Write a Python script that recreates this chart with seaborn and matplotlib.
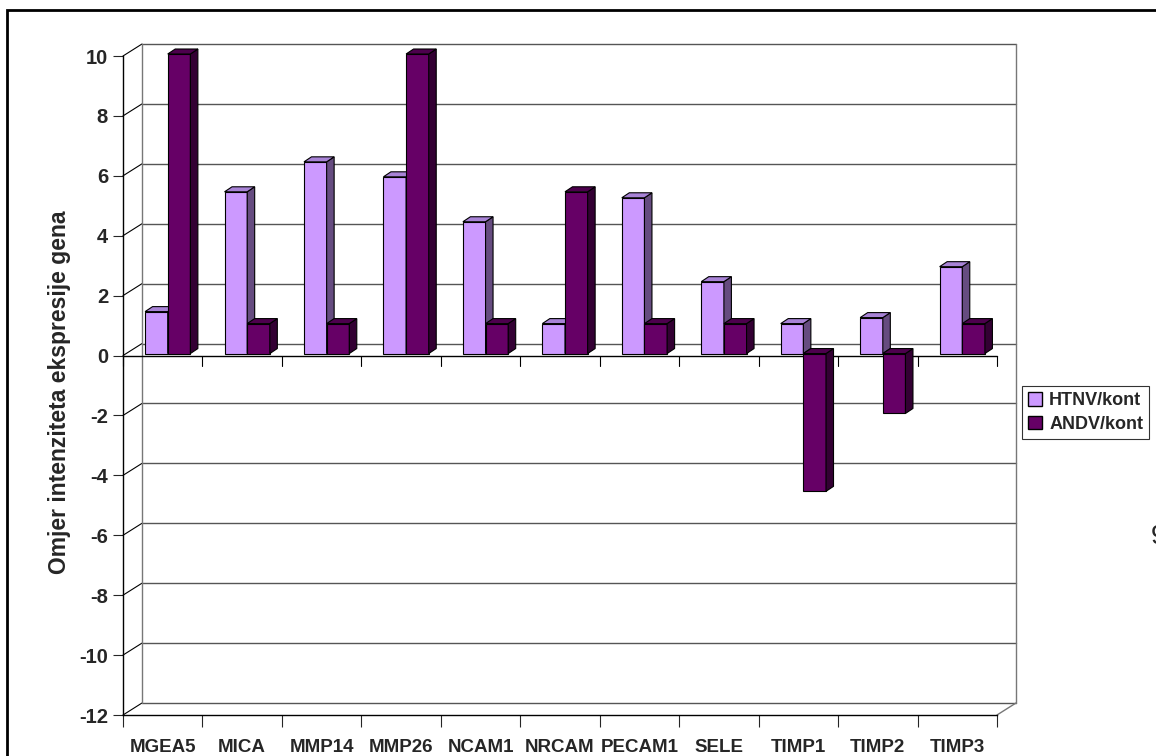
import numpy as np
import pandas as pd
import matplotlib
matplotlib.use("Agg")
import matplotlib.pyplot as plt
import seaborn as sns
from matplotlib.patches import Polygon, Patch, Rectangle

# values (gene expression ratio vs control)
GENES = ["MGEA5", "MICA", "MMP14", "MMP26", "NCAM1", "NRCAM",
         "PECAM1", "SELE", "TIMP1", "TIMP2", "TIMP3"]
HTNV = [1.4, 5.4, 6.4, 5.9, 4.4, 1.0, 5.2, 2.4, 1.0, 1.2, 2.9]
ANDV = [10.0, 1.0, 1.0, 10.0, 1.0, 5.4, 1.0, 1.0, -4.6, -2.0, 1.0]
SERIES = ["HTNV/kont", "ANDV/kont"]
YTICKS = list(range(-12, 11, 2))
YLABEL = "Omjer intenziteta ekspresije gena"

FRONT = {"HTNV/kont": "#cc99ff", "ANDV/kont": "#660066"}
SIDE = {"HTNV/kont": "#664c80", "ANDV/kont": "#330033"}
TOP = {"HTNV/kont": "#a883d6", "ANDV/kont": "#4d004d"}
GRID = "#555555"

df = pd.DataFrame({
    "gene": GENES * 2,
    "value": HTNV + ANDV,
    "series": [SERIES[0]] * len(GENES) + [SERIES[1]] * len(GENES),
})

sns.set_style("white")
plt.rcParams["font.family"] = ["Liberation Sans", "DejaVu Sans"]
plt.rcParams["font.weight"] = "bold"

W, H = 1156, 756
fig = plt.figure(figsize=(W / 100, H / 100), dpi=100)
L, R, T, B = 123, 997, 56, 715
ax = fig.add_axes([L / W, 1 - B / H, (R - L) / W, (B - T) / H])

sns.barplot(data=df, x="gene", y="value", hue="series", order=GENES,
            hue_order=SERIES, palette=FRONT, width=0.57, saturation=1,
            edgecolor="black", linewidth=0.8, legend=False, ax=ax)

ax.set_xlim(-0.5, len(GENES) - 0.5)
ax.set_ylim(YTICKS[0], YTICKS[-1])

# pixel -> data unit helpers
ux = (R - L) / len(GENES)
uy = (B - T) / (YTICKS[-1] - YTICKS[0])
bx, by = 19 / ux, 12 / uy      # back wall offset
ox, oy = 5 / ux, 2 / uy        # bar plane offset
dx, dy = 7.5 / ux, 5 / uy      # bar depth

xa, xb = -0.5, len(GENES) - 0.5
y0, y1 = YTICKS[0], YTICKS[-1]

# back wall, gridlines and left wall diagonals
for t in YTICKS:
    ax.plot([xa + bx, xb + bx], [t + by, t + by], color=GRID, lw=1, clip_on=False, zorder=1)
    ax.plot([xa, xa + bx], [t, t + by], color="black", lw=0.8, clip_on=False, zorder=1)
ax.plot([xa + bx] * 2, [y0 + by, y1 + by], color="#777777", lw=1, clip_on=False, zorder=1)
ax.plot([xb + bx] * 2, [y0 + by, y1 + by], color="#777777", lw=1, clip_on=False, zorder=1)
ax.plot([xb, xb + bx], [y0, y0 + by], color="#777777", lw=1, clip_on=False, zorder=1)

# category axis crossing at zero
ax.plot([xa, xb], [0, 0], color="black", lw=1, clip_on=False, zorder=2)
for b in np.arange(xa, xb + 0.01, 1):
    ax.plot([b, b], [0, -10 / uy], color="black", lw=0.8, clip_on=False, zorder=2)

# give the bars a 3D look
for p in list(ax.patches):
    cx = p.get_x() + p.get_width() / 2
    i = int(round(cx))
    j = 0 if cx < i else 1
    s = SERIES[j]
    x0 = p.get_x() + ox
    p.set_x(x0)
    p.set_y(p.get_y() + oy)
    p.set_clip_on(False)
    w, h = p.get_width(), p.get_height()
    lo, hi = min(p.get_y(), p.get_y() + h), max(p.get_y(), p.get_y() + h)
    z = 3 + j
    p.set_zorder(z)
    ax.add_patch(Polygon([(x0 + w, lo), (x0 + w + dx, lo + dy), (x0 + w + dx, hi + dy), (x0 + w, hi)],
                         closed=True, fc=SIDE[s], ec="black", lw=0.8, zorder=z, clip_on=False))
    ax.add_patch(Polygon([(x0, hi), (x0 + dx, hi + dy), (x0 + w + dx, hi + dy), (x0 + w, hi)],
                         closed=True, fc=TOP[s], ec="black", lw=0.8, zorder=z, clip_on=False))

for side in ["top", "right"]:
    ax.spines[side].set_visible(False)
for side in ["left", "bottom"]:
    ax.spines[side].set_color("black")
    ax.spines[side].set_linewidth(1)

ax.set_yticks(YTICKS)
ax.set_yticklabels([str(t) for t in YTICKS])
ax.tick_params(axis="y", length=7.2, width=0.8, pad=3.6, labelsize=14.5, left=True)
ax.set_xticks(range(len(GENES)))
ax.set_xticklabels(GENES)
ax.tick_params(axis="x", which="major", length=0, pad=17, labelsize=13.5)
ax.set_xticks(np.arange(xa, xb + 0.01, 1), minor=True)
ax.tick_params(axis="x", which="minor", length=8.5, width=0.8, bottom=True)
ax.set_xlabel("")
ax.set_ylabel(YLABEL, fontsize=16.5, fontweight="bold")
ax.yaxis.set_label_coords(-0.059, 0.49)

handles = [Patch(facecolor=FRONT[s], edgecolor="black", label=s) for s in SERIES]
leg = fig.legend(handles=handles, loc="upper left", bbox_to_anchor=(1022 / W, 1 - 386 / H),
                 frameon=True, fancybox=False, edgecolor="black",
                 prop={"weight": "bold", "size": 13}, handlelength=0.75, handleheight=0.75,
                 handletextpad=0.4, borderpad=0.35, labelspacing=0.35, borderaxespad=0)
leg.get_frame().set_linewidth(0.8)

# outer chart border and stray page number fragment
fig.add_artist(Rectangle((7 / W, -0.1), 1.0, 1.1 - 10 / H, fill=False, ec="black",
                         lw=2, transform=fig.transFigure))
fig.text(1151 / W, 1 - 537 / H, "9", fontsize=20, fontweight="normal", va="center", ha="left")

fig.savefig("out.png", dpi=100)
